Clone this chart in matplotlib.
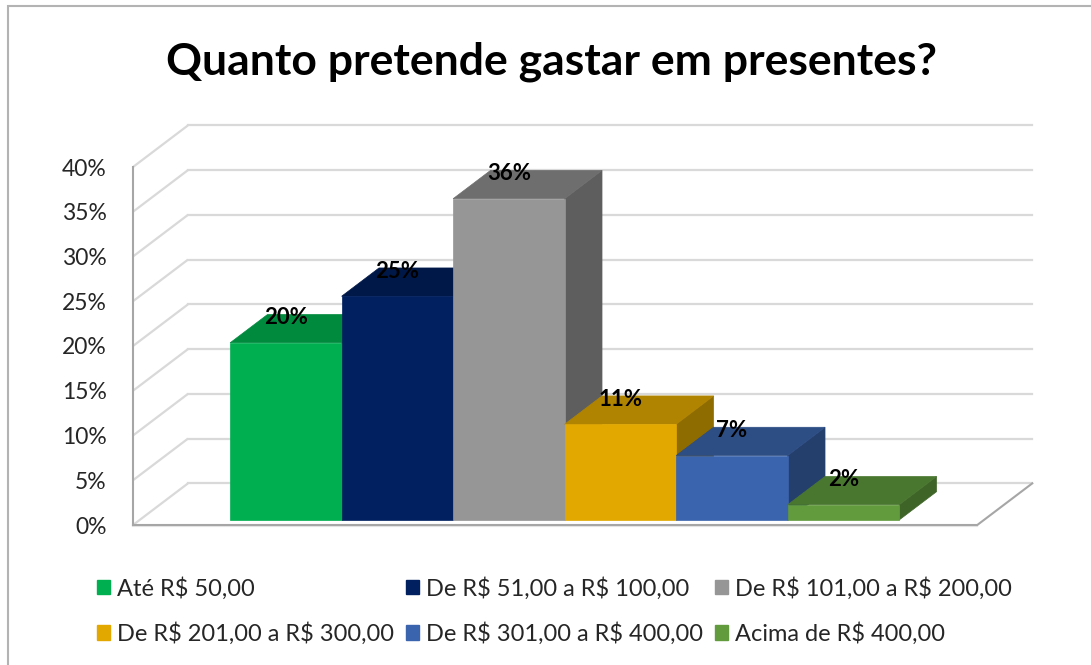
import matplotlib
matplotlib.use('Agg')
import matplotlib.pyplot as plt
from matplotlib.patches import Polygon, Patch, Rectangle

plt.rcParams['font.family'] = ['Lato', 'DejaVu Sans']
plt.rcParams['text.parse_math'] = False  # "R$" sem mathtext

# dados
categories = ['Até R$ 50,00', 'De R$ 51,00 a R$ 100,00', 'De R$ 101,00 a R$ 200,00',
              'De R$ 201,00 a R$ 300,00', 'De R$ 301,00 a R$ 400,00', 'Acima de R$ 400,00']
values = [19.8, 25.0, 35.9, 10.7, 7.2, 1.7]
yticks = [0, 5, 10, 15, 20, 25, 30, 35, 40]

# cores: frente, topo, lateral
front_colors = ['#00B050', '#002060', '#969696', '#E3A800', '#3B64AE', '#629B3E']
top_colors = ['#008A3E', '#001848', '#6E6E6E', '#B08400', '#2D4D85', '#4A7730']
side_colors = ['#006E30', '#00123A', '#5E5E5E', '#8F6C00', '#253F6D', '#3E6428']

# 3D fake: deslocamento da profundidade total (x em categorias, y em %)
DX = 0.493
DY = 4.65
Z0, Z1 = 0.12, 0.80
X_AXIS = -1.312
FLOOR_RIGHT = len(values) - 0.5 + 0.76
GRID = '#D9D9D9'
AXIS = '#A6A6A6'


def proj(x, y, z):
    return (x + z * DX, y + z * DY)


fig = plt.figure(figsize=(10.91, 6.65), dpi=100)
fig.patch.set_facecolor('white')
fig.patches.append(Rectangle((8 / 1091, -0.1), 1.2, 1.1 - 6 / 665, transform=fig.transFigure,
                             fill=False, edgecolor='#B3B3B3', linewidth=1.5))

ax = fig.add_axes([133 / 1091, 140 / 665, 907 / 1091, 405 / 665])
ax.set_xlim(X_AXIS, X_AXIS + 907 / 111.5)
ax.set_ylim(0, 405 / 8.95)
ax.patch.set_alpha(0)

# paredes e grade
for t in yticks:
    ax.plot([X_AXIS, X_AXIS + DX], [t, t + DY], color=GRID, lw=1.6, zorder=1, solid_capstyle='butt')
    ax.plot([X_AXIS + DX, FLOOR_RIGHT + DX], [t + DY, t + DY], color=GRID, lw=1.6, zorder=1)

# piso
ax.plot([X_AXIS, FLOOR_RIGHT], [-0.12, -0.12], color='#E6E6E6', lw=1.5, zorder=1, clip_on=False)
ax.plot([X_AXIS, FLOOR_RIGHT, FLOOR_RIGHT + DX], [0, 0, DY], color=AXIS, lw=1.5, zorder=2, clip_on=False)

# barras
for i, v in enumerate(values):
    xl, xr = i - 0.5, i + 0.5
    side = [proj(xr, 0, Z0), proj(xr, 0, Z1), proj(xr, v, Z1), proj(xr, v, Z0)]
    top = [proj(xl, v, Z0), proj(xr, v, Z0), proj(xr, v, Z1), proj(xl, v, Z1)]
    front = [proj(xl, 0, Z0), proj(xr, 0, Z0), proj(xr, v, Z0), proj(xl, v, Z0)]
    for poly, c in ((side, side_colors[i]), (top, top_colors[i]), (front, front_colors[i])):
        ax.add_patch(Polygon(poly, closed=True, facecolor=c, edgecolor=c, lw=0.5, zorder=3 + i))
    lx, ly = proj(i, v, Z0)
    ax.text(lx, ly + 2.8, f'{round(v):d}%', ha='center', va='center', fontsize=16,
            fontweight='bold', color='black', zorder=20)

# eixo vertical
for s in ['top', 'right', 'bottom']:
    ax.spines[s].set_visible(False)
ax.spines['left'].set_bounds(0, 40)
ax.spines['left'].set_color(AXIS)
ax.spines['left'].set_linewidth(1.5)
ax.set_xticks([])
ax.set_yticks(yticks)
ax.set_yticklabels([f'{t}%' for t in yticks], fontsize=16.5, color='#262626')
ax.tick_params(axis='y', length=0, pad=19)

fig.text(552 / 1091, 1 - 62 / 665, 'Quanto pretende gastar em presentes?', ha='center', va='center',
         fontsize=32, fontweight='bold', color='black')

# legenda (ordem por linhas como no Excel)
handles = [Patch(facecolor=c, edgecolor=c) for c in front_colors]
order = [0, 3, 1, 4, 2, 5]
fig.legend([handles[k] for k in order], [categories[k] for k in order], ncol=3,
           loc='upper left', bbox_to_anchor=(97 / 1091, 1 - 577 / 665), frameon=False,
           fontsize=17, handlelength=0.55, handleheight=0.55, handletextpad=0.3,
           columnspacing=0.5, labelspacing=0.95, borderpad=0, borderaxespad=0,
           labelcolor='#262626')

fig.savefig('out.png', dpi=100)
